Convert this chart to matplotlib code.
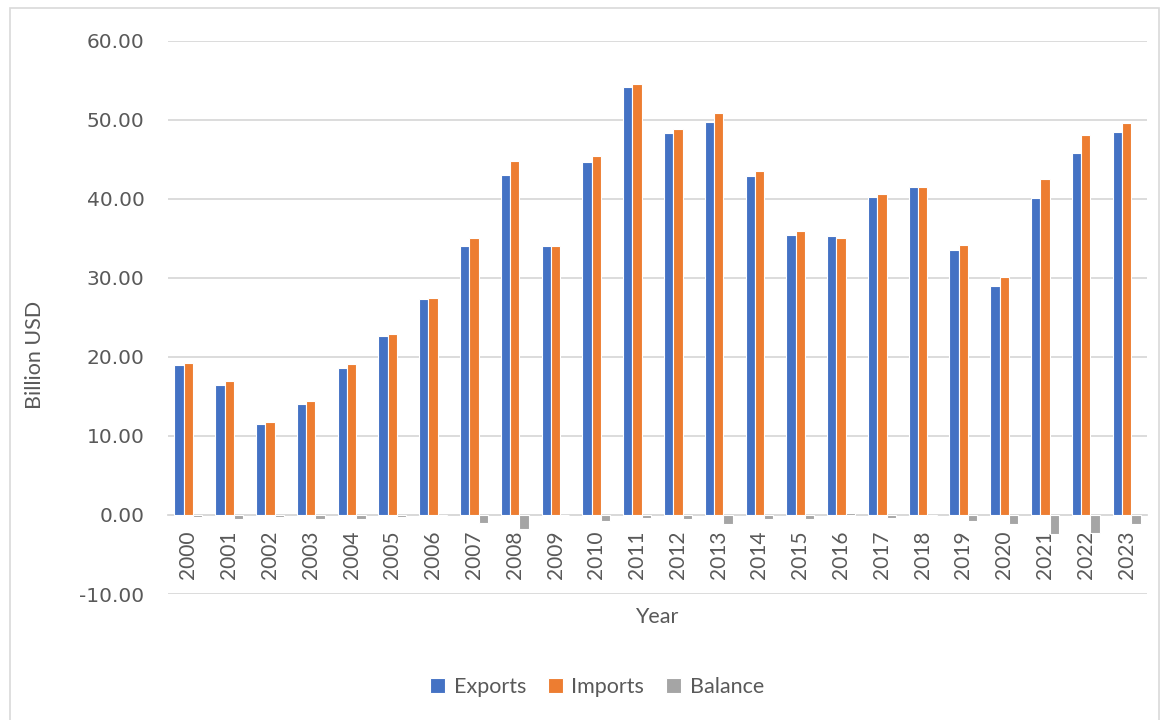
import matplotlib
matplotlib.use("Agg")
import matplotlib.pyplot as plt
import numpy as np
from matplotlib.patches import Rectangle

years = [str(y) for y in range(2000, 2024)]
exports = [19.0, 16.5, 11.5, 14.0, 18.6, 22.7, 27.4, 34.1, 43.05, 34.05,
           44.66, 54.19, 48.3, 49.75, 42.97, 35.4, 35.36, 40.3, 41.48, 33.5,
           29.0, 40.08, 45.85, 48.43]
imports = [19.24, 17.0, 11.8, 14.45, 19.07, 22.95, 27.5, 35.06, 44.87, 34.05,
           45.42, 54.62, 48.81, 50.85, 43.5, 35.95, 35.1, 40.68, 41.56, 34.2,
           30.08, 42.5, 48.14, 49.62]
balance = [-0.24, -0.5, -0.3, -0.45, -0.47, -0.25, -0.1, -0.96, -1.82, 0.0,
           -0.76, -0.43, -0.51, -1.1, -0.53, -0.55, 0.26, -0.38, -0.08, -0.7,
           -1.08, -2.42, -2.29, -1.19]
y_ticks = [-10, 0, 10, 20, 30, 40, 50, 60]

blue, orange, grey = "#4472C4", "#ED7D31", "#A5A5A5"
text_col = "#595959"
grid_col = "#D9D9D9"
label_font = "Lato"

W, H = 1164, 720
fig = plt.figure(figsize=(W / 100, H / 100), dpi=100)
fig.patch.set_facecolor("white")

# outer chart border
fig.patches.append(Rectangle((10 / W, -0.01), 1149 / W, 1 - 8 / H + 0.01,
                             transform=fig.transFigure, fill=False,
                             edgecolor=grid_col, linewidth=1.2))

ax = fig.add_axes([168 / W, 1 - 594 / H, (1147 - 168) / W, (594 - 41) / H])
x = np.arange(len(years))
bw = 0.228
ax.bar(x - bw, exports, bw, color=blue, edgecolor="white", linewidth=0.8,
       label="Exports", zorder=3)
ax.bar(x, imports, bw, color=orange, edgecolor="white", linewidth=0.8,
       label="Imports", zorder=3)
ax.bar(x + bw, balance, bw, color=grey, edgecolor="white", linewidth=0.8,
       label="Balance", zorder=3)

ax.set_xlim(-0.5, len(years) - 0.5)
ax.set_ylim(-10, 60)
ax.set_yticks(y_ticks)
ax.set_yticklabels([f"{v:.2f}" for v in y_ticks], fontsize=14.5,
                   color=text_col, family="DejaVu Sans")
ax.yaxis.grid(True, color=grid_col, linewidth=1.3, zorder=0)
ax.set_axisbelow(True)
ax.tick_params(axis="y", length=0, pad=17)

ax.spines["bottom"].set_position(("data", 0))
ax.spines["bottom"].set_color(grid_col)
ax.spines["bottom"].set_linewidth(1.3)
for s in ("top", "right", "left"):
    ax.spines[s].set_visible(False)
ax.set_xticks(x)
ax.set_xticklabels(years, rotation=90, fontsize=15, color=text_col,
                   family=label_font)
ax.tick_params(axis="x", length=0, pad=11)

fig.text(657 / W, 1 - 617 / H, "Year", ha="center", va="center",
         fontsize=15.5, color=text_col, family=label_font)
fig.text(35 / W, 1 - 355 / H, "Billion USD", ha="center", va="center",
         rotation=90, fontsize=15.5, color=text_col, family=label_font)

leg = fig.legend(loc="center", bbox_to_anchor=(597 / W, 1 - 687 / H), ncol=3,
                 frameon=False, handlelength=0.7, handleheight=0.7,
                 handletextpad=0.4, columnspacing=1.0,
                 prop={"family": label_font, "size": 15.5})
for t in leg.get_texts():
    t.set_color(text_col)

fig.savefig("out.png", dpi=100, facecolor="white")
